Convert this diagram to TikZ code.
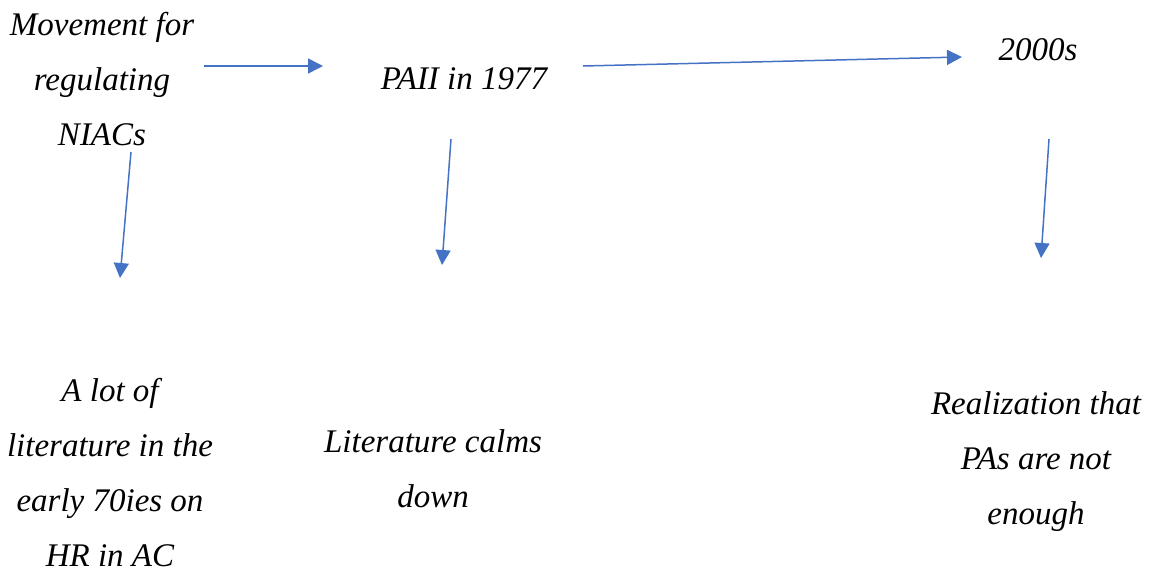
\documentclass[tikz,border=0pt]{standalone}
\usepackage{fontspec}
\setmainfont{Liberation Serif}
\usetikzlibrary{arrows.meta}
\definecolor{arrowblue}{HTML}{4472C4}
\tikzset{
  lbl/.style={align=center, inner sep=0pt, font=\fontsize{33}{55}\selectfont\itshape},
  conn/.style={draw=arrowblue, line width=1.5pt, -{Triangle[length=15pt,width=15pt]}}
}
\begin{document}
\begin{tikzpicture}[x=1pt,y=-1pt]
\useasboundingbox (0,0) rectangle (1155,573);
\node[lbl] (move) at (102,79) {Movement for\\regulating\\NIACs};
\node[lbl] (paii) at (464,79) {PAII in 1977};
\node[lbl] (y2000) at (1038,50) {2000s};
\node[lbl] (lot) at (110,473) {A lot of\\literature in the\\early 70ies on\\HR in AC};
\node[lbl] (calm) at (433,469) {Literature calms\\down};
\node[lbl] (real) at (1036,462) {Realization that\\PAs are not\\enough};
\coordinate (a1s) at (204,66);
\coordinate (a1e) at (323,66);
\coordinate (a2s) at (583,66);
\coordinate (a2e) at (962,57);
\coordinate (a3s) at (131,152);
\coordinate (a3e) at (120,278);
\coordinate (a4s) at (451,139);
\coordinate (a4e) at (442,265);
\coordinate (a5s) at (1049,139);
\coordinate (a5e) at (1041,258);
\draw[conn] (a1s) -- (a1e);
\draw[conn] (a2s) -- (a2e);
\draw[conn] (a3s) -- (a3e);
\draw[conn] (a4s) -- (a4e);
\draw[conn] (a5s) -- (a5e);
\end{tikzpicture}
\end{document}
